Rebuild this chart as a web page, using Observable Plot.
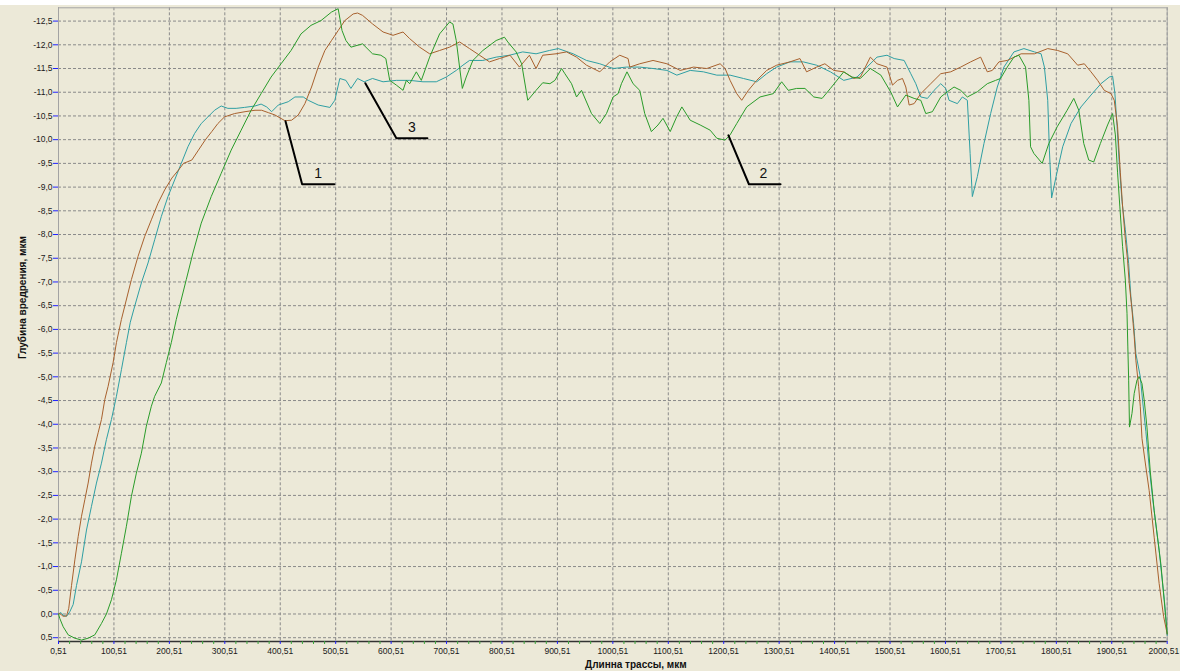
<!DOCTYPE html>
<html>
<head>
<meta charset="utf-8">
<script src="https://cdn.jsdelivr.net/npm/d3@7"></script>
<script src="https://cdn.jsdelivr.net/npm/@observablehq/plot@0.6"></script>
<style>
  html, body { margin: 0; padding: 0; background: #ffffff; }
  #chart { padding-top: 5px; width: 1180px; }
  #chart svg { display: block; }
</style>
</head>
<body>
<div id="chart"></div>
<script>
// ---- Data ----
const seriesNames = ["1", "2", "3"];

// Curve 1 (brown)
const curve1 = [
  [0.51,0],[3,-0.01],[9,0.05],[15,0.04],[19,-0.12],[24,-0.6],[30,-1.14],[36,-1.63],[42,-2.06],[48,-2.41],
  [54,-2.76],[60,-3.18],[66,-3.54],[72,-3.82],[78,-4.10],[84,-4.52],[90,-4.80],[99,-5.30],[105,-5.72],[114,-6.21],
  [120,-6.49],[132,-7.05],[144,-7.54],[156,-7.96],[168,-8.31],[180,-8.66],[192,-8.94],[205,-9.19],[217,-9.36],[226,-9.50],
  [241,-9.57],[253,-9.78],[265,-9.99],[277,-10.17],[288,-10.34],[300,-10.48],[318,-10.55],[337,-10.59],[355,-10.62],[367,-10.62],
  [379,-10.57],[391,-10.52],[409,-10.40],[421,-10.41],[433,-10.52],[445,-10.76],[457,-11.11],[469,-11.53],[481,-11.88],[493,-12.09],
  [505,-12.30],[517,-12.51],[532,-12.65],[540,-12.67],[549,-12.62],[567,-12.44],[586,-12.27],[604,-12.20],[622,-12.27],[634,-12.13],
  [652,-11.95],[670,-11.81],[688,-11.88],[706,-11.95],[724,-12.06],[742,-11.92],[760,-11.78],[778,-11.64],[796,-11.71],[815,-11.78],
  [832,-11.53],[850,-11.78],[862,-11.50],[874,-11.78],[898,-11.81],[917,-11.85],[935,-11.74],[953,-11.57],[977,-11.43],[995,-11.64],
  [1013,-11.78],[1028,-11.71],[1031,-11.53],[1049,-11.60],[1073,-11.67],[1098,-11.60],[1122,-11.46],[1146,-11.53],[1170,-11.50],[1194,-11.60],
  [1203,-11.50],[1212,-11.25],[1224,-10.97],[1233,-10.83],[1245,-11.04],[1260,-11.25],[1278,-11.46],[1296,-11.57],[1320,-11.64],[1338,-11.71],
  [1350,-11.43],[1368,-11.53],[1383,-11.60],[1399,-11.46],[1417,-11.43],[1435,-11.29],[1447,-11.32],[1465,-11.74],[1477,-11.60],[1495,-11.53],
  [1505,-11.15],[1514,-11.25],[1523,-11.29],[1529,-11.11],[1535,-10.73],[1544,-10.76],[1556,-10.97],[1574,-11.18],[1592,-11.39],[1610,-11.43],
  [1628,-11.53],[1646,-11.64],[1664,-11.74],[1676,-11.43],[1685,-11.46],[1697,-11.64],[1712,-11.67],[1737,-11.81],[1761,-11.81],[1785,-11.92],
  [1803,-11.88],[1821,-11.81],[1839,-11.57],[1851,-11.60],[1863,-11.43],[1875,-11.25],[1887,-11.04],[1899,-10.97],[1905,-10.83],[1911,-10.27],
  [1916,-9.3],[1920,-8.6],[1925,-7.9],[1929,-7.46],[1932,-6.97],[1937,-6.41],[1941,-5.85],[1944,-5.35],[1949,-4.79],[1952,-4.37],
  [1955,-3.7],[1962,-3.1],[1968,-2.60],[1977,-1.62],[1986,-0.64],[1994,0.05],[2000.51,0.42]
];

// Curve 2 (green)
const curve2 = [
  [0.51,0],[3,0.1],[9,0.27],[18,0.44],[30,0.51],[42,0.55],[54,0.51],[66,0.44],[78,0.20],[87,0],
  [96,-0.30],[105,-0.72],[114,-1.28],[123,-1.85],[132,-2.48],[141,-2.97],[150,-3.39],[159,-3.96],[168,-4.38],[174,-4.59],
  [186,-4.87],[195,-5.30],[204,-5.72],[213,-6.21],[219,-6.49],[231,-7.05],[243,-7.61],[258,-8.24],[276,-8.80],[294,-9.29],
  [312,-9.78],[330,-10.20],[348,-10.62],[366,-10.97],[384,-11.32],[402,-11.60],[420,-11.88],[438,-12.23],[456,-12.41],[474,-12.51],
  [493,-12.69],[505,-12.76],[512,-12.30],[519,-12.09],[528,-11.95],[549,-12.02],[567,-11.81],[582,-11.78],[591,-11.71],[598,-11.25],
  [610,-11.15],[622,-11.04],[628,-11.25],[634,-11.18],[646,-11.43],[655,-11.25],[670,-11.74],[688,-12.23],[706,-12.48],[712,-12.44],
  [718,-12.09],[724,-11.53],[729,-11.08],[736,-11.32],[748,-11.67],[766,-11.88],[790,-12.09],[805,-12.16],[811,-12.06],[826,-11.85],
  [836,-11.6],[847,-10.83],[862,-11.04],[874,-11.20],[887,-11.18],[896,-11.25],[908,-11.50],[914,-11.39],[926,-11.18],[935,-10.90],
  [944,-11.04],[962,-10.55],[977,-10.34],[989,-10.55],[1001,-10.90],[1010,-10.97],[1016,-11.18],[1026,-11.43],[1037,-11.18],[1049,-11.04],
  [1058,-10.55],[1070,-10.17],[1082,-10.31],[1091,-10.45],[1104,-10.17],[1116,-10.49],[1125,-10.69],[1140,-10.41],[1158,-10.31],[1176,-10.20],
  [1188,-10.03],[1203,-9.99],[1212,-10.10],[1224,-10.34],[1242,-10.69],[1266,-10.90],[1290,-10.97],[1305,-11.22],[1317,-11.04],[1332,-11.08],
  [1347,-11.08],[1363,-10.90],[1378,-10.87],[1393,-11.08],[1417,-11.43],[1432,-11.32],[1447,-11.29],[1465,-11.50],[1484,-11.36],[1502,-11.0],
  [1514,-10.69],[1529,-10.94],[1544,-10.87],[1556,-10.83],[1565,-10.55],[1577,-10.59],[1592,-10.90],[1604,-11.01],[1616,-11.11],[1628,-11.04],
  [1640,-10.90],[1658,-11.01],[1676,-11.18],[1691,-11.25],[1700,-11.29],[1712,-11.53],[1724,-11.74],[1733,-11.78],[1745,-11.53],[1751,-10.83],
  [1754,-9.85],[1760,-9.71],[1775,-9.50],[1787,-9.92],[1802,-10.27],[1820,-10.62],[1832,-10.87],[1841,-10.62],[1850,-9.92],[1859,-9.57],
  [1868,-9.53],[1880,-9.92],[1893,-10.31],[1902,-10.55],[1907,-10.1],[1911,-9.3],[1915,-8.6],[1920,-7.75],[1925,-7.04],[1928,-6.34],
  [1929.5,-5.63],[1931,-4.93],[1932.5,-3.94],[1937,-4.23],[1941,-4.65],[1946,-4.93],[1950,-5.0],[1955,-4.86],[1959,-4.51],[1964,-3.94],
  [1970,-3.0],[1977,-2.18],[1989,-1.06],[1995,-0.3],[2000.51,0.42]
];

// Curve 3 (teal)
const curve3 = [
  [0.51,0],[5,-0.03],[9,0.03],[15,0.05],[21,-0.05],[27,-0.2],[33,-0.6],[42,-1.1],[51,-1.77],[60,-2.27],
  [69,-2.76],[78,-3.18],[87,-3.68],[96,-4.10],[105,-4.59],[114,-5.15],[123,-5.72],[130,-6.15],[138,-6.49],[150,-6.98],
  [162,-7.40],[174,-7.89],[186,-8.38],[198,-8.80],[210,-9.15],[222,-9.50],[234,-9.85],[246,-10.13],[258,-10.34],[270,-10.48],
  [282,-10.62],[294,-10.71],[306,-10.66],[321,-10.66],[336,-10.68],[355,-10.71],[366,-10.75],[376,-10.69],[385,-10.59],[397,-10.73],
  [415,-10.80],[427,-10.90],[442,-10.90],[451,-10.83],[469,-10.73],[490,-10.68],[499,-10.83],[508,-11.29],[519,-11.25],[528,-11.08],
  [540,-11.29],[552,-11.22],[567,-11.29],[586,-11.22],[610,-11.25],[634,-11.25],[658,-11.22],[682,-11.22],[700,-11.32],[718,-11.46],
  [730,-11.57],[742,-11.67],[766,-11.67],[790,-11.74],[814,-11.78],[838,-11.85],[862,-11.81],[886,-11.88],[902,-11.92],[929,-11.81],
  [953,-11.67],[977,-11.60],[1001,-11.50],[1025,-11.53],[1049,-11.53],[1073,-11.50],[1098,-11.46],[1116,-11.36],[1140,-11.46],[1164,-11.43],
  [1188,-11.36],[1212,-11.36],[1236,-11.29],[1260,-11.22],[1278,-11.39],[1296,-11.53],[1320,-11.64],[1344,-11.64],[1368,-11.57],[1393,-11.43],
  [1417,-11.25],[1441,-11.32],[1459,-11.53],[1477,-11.74],[1495,-11.78],[1508,-11.71],[1526,-11.67],[1538,-11.39],[1547,-11.18],[1556,-10.90],
  [1568,-10.87],[1580,-11.04],[1592,-11.18],[1601,-11.08],[1607,-10.83],[1622,-10.76],[1631,-10.90],[1640,-10.83],[1645,-9.71],[1649,-8.80],
  [1658,-9.22],[1670,-9.92],[1682,-10.55],[1694,-11.11],[1706,-11.53],[1724,-11.85],[1742,-11.92],[1761,-11.85],[1773,-11.81],[1779,-11.53],
  [1785,-10.83],[1788,-9.78],[1792,-8.77],[1800,-9.22],[1812,-9.85],[1827,-10.34],[1845,-10.69],[1863,-10.94],[1881,-11.18],[1896,-11.32],
  [1902,-11.34],[1906,-11.0],[1910,-10.3],[1914,-9.5],[1919,-8.7],[1925,-8.10],[1931,-7.39],[1935,-6.69],[1940,-6.12],[1944,-5.49],
  [1952,-5.0],[1956,-4.51],[1962,-3.85],[1968,-3.1],[1974,-2.46],[1986,-1.34],[1996,-0.22],[2000.51,0.45]
];

// Callout leader lines (data coordinates) and their numbers
const calloutLabels = ["1", "3", "2"];
const calloutPaths = [
  [[410,-10.39],[440,-9.06],[498,-9.06]],
  [[554,-11.19],[610,-10.03],[666,-10.03]],
  [[1209,-10.09],[1246,-9.06],[1303,-9.06]]
];
const calloutLabelPos = [[469,-9.06],[638,-10.03],[1272,-9.06]];

// Axes
const xTickValues = [0.51,100.51,200.51,300.51,400.51,500.51,600.51,700.51,800.51,900.51,1000.51,
  1100.51,1200.51,1300.51,1400.51,1500.51,1600.51,1700.51,1800.51,1900.51,2000.51];
const xTickLabels = ["0,51","100,51","200,51","300,51","400,51","500,51","600,51","700,51","800,51","900,51","1000,51",
  "1100,51","1200,51","1300,51","1400,51","1500,51","1600,51","1700,51","1800,51","1900,51","2000,51"];
const yTickValues = [-12.5,-12,-11.5,-11,-10.5,-10,-9.5,-9,-8.5,-8,-7.5,-7,-6.5,-6,-5.5,-5,-4.5,-4,-3.5,-3,
  -2.5,-2,-1.5,-1,-0.5,0,0.5];
const yTickLabels = ["-12,5","-12,0","-11,5","-11,0","-10,5","-10,0","-9,5","-9,0","-8,5","-8,0","-7,5","-7,0",
  "-6,5","-6,0","-5,5","-5,0","-4,5","-4,0","-3,5","-3,0","-2,5","-2,0","-1,5","-1,0","-0,5","0,0","0,5"];
const xTitle = "Длинна трассы, мкм";
const yTitle = "Глубина вредрения, мкм";

// ---- Build ----
const colors = {"1": "#a8612e", "2": "#2a9c2a", "3": "#2f9fa3"};
const toRows = (curve, s) => curve.map(([x, y]) => ({x, y, s}));
const rows1 = toRows(curve1, "1");
const rows2 = toRows(curve2, "2");
const rows3 = toRows(curve3, "3");

const calloutRows = calloutPaths.flatMap((p, i) => p.map(([x, y]) => ({x, y, id: calloutLabels[i]})));
const calloutText = calloutLabelPos.map(([x, y], i) => ({x, y, t: calloutLabels[i]}));

const xLabelMap = new Map(xTickValues.map((v, i) => [v, xTickLabels[i]]));
const yLabelMap = new Map(yTickValues.map((v, i) => [v, yTickLabels[i]]));
const minorX = d3.range(0, 2001, 20).map(v => v + 0.51).filter(v => !xTickValues.includes(v));
const lastX = xTickValues[xTickValues.length - 1];

const xDomain = [0.51, 2000.51];
const yDomain = [0.58, -12.78];

const chart = Plot.plot({
  width: 1180,
  height: 666,
  marginLeft: 58,
  marginRight: 13.3,
  marginTop: 2.3,
  marginBottom: 30,
  style: {background: "#ece9d8", fontFamily: "'Liberation Sans', Arial, sans-serif", fontSize: "8.5px", color: "#1a1a1a"},
  x: {domain: xDomain, label: null},
  y: {domain: yDomain, label: null},
  marks: [
    Plot.gridX(xTickValues, {stroke: "#8a8a8a", strokeOpacity: 1, strokeDasharray: "3,2"}),
    Plot.gridY(yTickValues, {stroke: "#8a8a8a", strokeOpacity: 1, strokeDasharray: "3,2"}),
    Plot.frame({stroke: "#a3a3a3"}),
    Plot.line(rows3, {x: "x", y: "y", stroke: colors["3"], strokeWidth: 1}),
    Plot.line(rows1, {x: "x", y: "y", stroke: colors["1"], strokeWidth: 1}),
    Plot.line(rows2, {x: "x", y: "y", stroke: colors["2"], strokeWidth: 1}),
    Plot.line(calloutRows, {x: "x", y: "y", z: "id", stroke: "#000", strokeWidth: 2}),
    Plot.text(calloutText, {x: "x", y: "y", text: "t", dy: -11, fontSize: 14, fill: "#111",
      fontFamily: "'Liberation Sans', Arial, sans-serif"}),
    Plot.ruleY([yDomain[0]], {stroke: "#333", strokeWidth: 1.5}),
    Plot.axisX(minorX, {tickSize: 3, stroke: "#3aa63a", tickFormat: () => ""}),
    Plot.axisX(xTickValues, {tickSize: 3, tickPadding: 3, stroke: "#2020ff", fill: "#1a1a1a",
      tickFormat: d => (d === lastX ? "" : xLabelMap.get(d))}),
    Plot.axisX([lastX], {tickSize: 0, tickPadding: 6, fill: "#1a1a1a", textAnchor: "end", dx: 12,
      tickFormat: d => xLabelMap.get(d)}),
    Plot.axisY(yTickValues, {tickSize: 5, tickPadding: 1, stroke: "#2020ff", fill: "#1a1a1a",
      tickFormat: d => yLabelMap.get(d)}),
    Plot.text([xTitle], {frameAnchor: "bottom", textAnchor: "middle", lineAnchor: "middle", dx: 23, dy: 23,
      fontWeight: "bold", fontSize: 10, fill: "#111"}),
    Plot.text([yTitle], {frameAnchor: "left", textAnchor: "middle", lineAnchor: "middle", rotate: -90, dx: -35.5, dy: -27,
      fontWeight: "bold", fontSize: 10, fill: "#111"})
  ]
});
document.getElementById("chart").appendChild(chart);
</script>
</body>
</html>
